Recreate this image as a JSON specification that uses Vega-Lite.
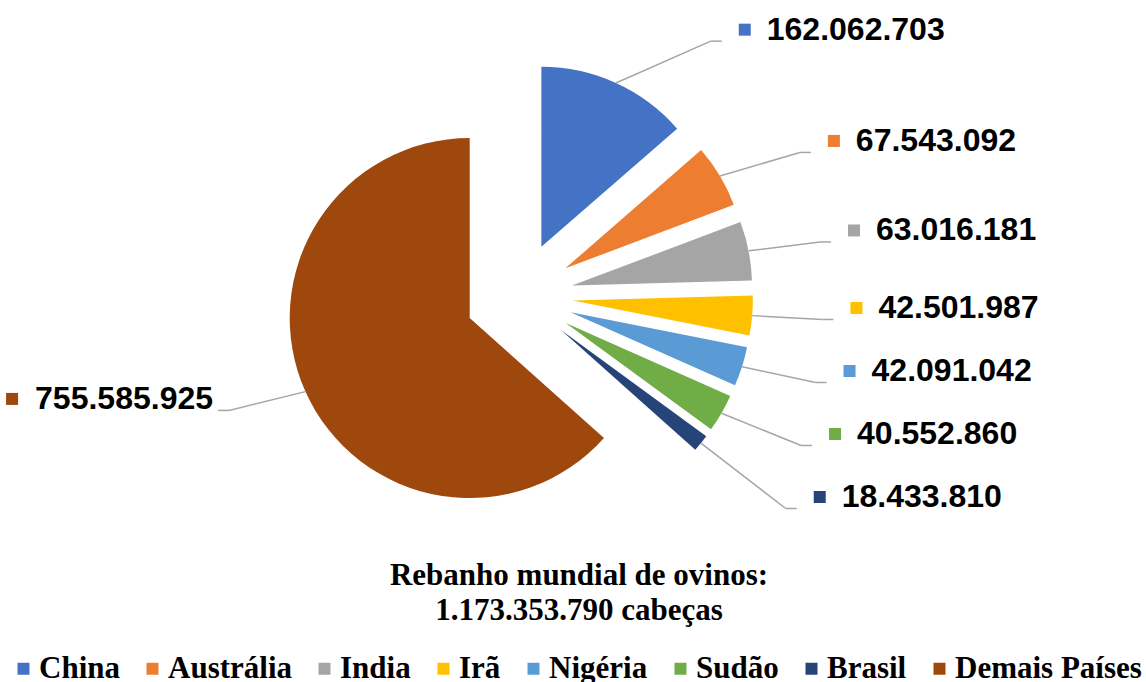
{
  "$schema": "https://vega.github.io/schema/vega-lite/v6.json",
  "width": 1146,
  "height": 530,
  "autosize": {"type": "pad"},
  "padding": 0,
  "background": "white",
  "config": {
    "view": {"stroke": null},
    "locale": {"number": {"decimal": ",", "thousands": ".", "grouping": [3], "currency": ["", ""]}}
  },
  "data": {"values": [
    {"pais": "China", "v": 162062703},
    {"pais": "Austrália", "v": 67543092},
    {"pais": "India", "v": 63016181},
    {"pais": "Irã", "v": 42501987},
    {"pais": "Nigéria", "v": 42091042},
    {"pais": "Sudão", "v": 40552860},
    {"pais": "Brasil", "v": 18433810},
    {"pais": "Demais Países", "v": 755585925}
  ]},
  "transform": [
    {"joinaggregate": [{"op": "sum", "field": "v", "as": "tot"}]},
    {"window": [{"op": "sum", "field": "v", "as": "cum"}], "frame": [null, 0]},
    {"calculate": "(datum.cum - datum.v) / datum.tot", "as": "t0"},
    {"calculate": "datum.cum / datum.tot", "as": "t1"},
    {"calculate": "PI * (datum.t0 + datum.t1)", "as": "mid"},
    {"calculate": "sin(datum.mid)", "as": "sx"},
    {"calculate": "cos(datum.mid)", "as": "cy"},
    {"calculate": "datum.sx >= 0 ? 'R' : 'L'", "as": "side"},
    {"calculate": "54 * datum.sx", "as": "ex"},
    {"calculate": "54 * datum.cy", "as": "ey"},
    {"calculate": "234 * datum.sx", "as": "px"},
    {"calculate": "234 * datum.cy", "as": "py"},
    {"calculate": "(datum.sx >= 0 ? 1 : -1) * 315 * sqrt(abs(datum.sx))", "as": "ax"},
    {"calculate": "-280 * datum.cy", "as": "dn"},
    {"window": [{"op": "row_number", "as": "rn"}], "groupby": ["side"], "sort": [{"field": "t0"}]},
    {"calculate": "datum.dn - 63 * (datum.rn - 1)", "as": "z"},
    {"window": [{"op": "max", "field": "z", "as": "zmax"}], "groupby": ["side"], "sort": [{"field": "t0"}], "frame": [null, 0]},
    {"calculate": "-(datum.zmax + 63 * (datum.rn - 1))", "as": "ay"},
    {"calculate": "datum.ax - (datum.sx >= 0 ? 11 : -11)", "as": "qx"},
    {"calculate": "datum.sx >= 0 ? datum.ax + 23 : datum.ax - 206", "as": "kx"},
    {"calculate": "datum.sx >= 0 ? datum.ax + 45 : datum.ax - 183", "as": "tx"},
    {"calculate": "datum.ay + 11.5", "as": "ky"}
  ],
  "layer": [
    {
      "mark": {"type": "arc", "outerRadius": 180},
      "encoding": {
        "x": {"field": "ex", "type": "quantitative", "axis": null, "scale": {"domain": [-519, 627], "nice": false, "zero": false}},
        "y": {"field": "ey", "type": "quantitative", "axis": null, "scale": {"domain": [-234, 296], "nice": false, "zero": false}},
        "theta": {"field": "t0", "type": "quantitative", "stack": null, "scale": {"domain": [0, 1]}},
        "theta2": {"field": "t1"},
        "color": {
          "field": "pais", "type": "nominal",
          "scale": {
            "domain": ["China", "Austrália", "India", "Irã", "Nigéria", "Sudão", "Brasil", "Demais Países"],
            "range": ["#4472C4", "#ED7D31", "#A5A5A5", "#FFC000", "#5B9BD5", "#70AD47", "#264478", "#9E480E"]
          },
          "legend": {
            "orient": "bottom",
            "direction": "horizontal",
            "offset": 14,
            "padding": 17,
            "title": ["Rebanho mundial de ovinos:", "1.173.353.790 cabeças"],
            "titleFont": "Liberation Serif",
            "titleFontSize": 31,
            "titleFontWeight": "bold",
            "titleColor": "black",
            "titleAnchor": "middle",
            "titleAlign": "center",
            "titleOrient": "top",
            "titleLineHeight": 35,
            "titlePadding": 26,
            "titleLimit": 1000,
            "labelFont": "Liberation Serif",
            "labelFontSize": 31,
            "labelFontWeight": "bold",
            "labelColor": "black",
            "labelLimit": 400,
            "labelOffset": 0,
            "symbolOffset": -9,
            "columnPadding": 26,
            "symbolType": "square",
            "symbolSize": 144,
            "symbolStrokeWidth": 0,
            "symbolOpacity": 1
          }
        }
      }
    },
    {
      "mark": {"type": "rule", "color": "#A6A6A6", "strokeWidth": 1.5},
      "encoding": {
        "x": {"field": "px", "type": "quantitative", "axis": null, "scale": {"domain": [-519, 627], "nice": false, "zero": false}},
        "y": {"field": "py", "type": "quantitative", "axis": null, "scale": {"domain": [-234, 296], "nice": false, "zero": false}},
        "x2": {"field": "qx"},
        "y2": {"field": "ay"}
      }
    },
    {
      "mark": {"type": "rule", "color": "#A6A6A6", "strokeWidth": 1.5},
      "encoding": {
        "x": {"field": "qx", "type": "quantitative", "axis": null, "scale": {"domain": [-519, 627], "nice": false, "zero": false}},
        "y": {"field": "ay", "type": "quantitative", "axis": null, "scale": {"domain": [-234, 296], "nice": false, "zero": false}},
        "x2": {"field": "ax"}
      }
    },
    {
      "mark": {"type": "point", "shape": "square", "filled": true, "size": 144, "opacity": 1},
      "encoding": {
        "x": {"field": "kx", "type": "quantitative", "axis": null, "scale": {"domain": [-519, 627], "nice": false, "zero": false}},
        "y": {"field": "ky", "type": "quantitative", "axis": null, "scale": {"domain": [-234, 296], "nice": false, "zero": false}},
        "color": {"field": "pais", "type": "nominal"}
      }
    },
    {
      "mark": {"type": "text", "align": "left", "baseline": "middle", "font": "Liberation Sans", "fontSize": 32, "fontWeight": "bold", "color": "black"},
      "encoding": {
        "x": {"field": "tx", "type": "quantitative", "axis": null, "scale": {"domain": [-519, 627], "nice": false, "zero": false}},
        "y": {"field": "ky", "type": "quantitative", "axis": null, "scale": {"domain": [-234, 296], "nice": false, "zero": false}},
        "text": {"field": "v", "type": "quantitative", "format": ",.0f"}
      }
    }
  ]
}
